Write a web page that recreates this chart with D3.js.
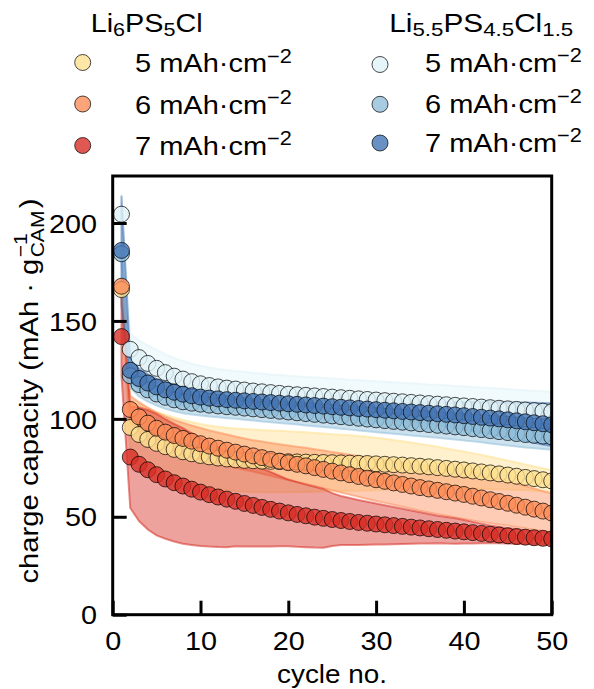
<!DOCTYPE html>
<html><head><meta charset="utf-8">
<script src="https://cdn.jsdelivr.net/npm/d3@7"></script>
<style>
body{margin:0;background:#fff}
svg{display:block}
text{font-family:"Liberation Sans",Arial,Helvetica,sans-serif;fill:#000}
</style>
</head><body>
<svg id="chart" width="594" height="689"></svg>
<script>
// ---------------- data ----------------
const cycles = d3.range(1, 51);
const xTicks = [0, 10, 20, 30, 40, 50];
const yTicks = [0, 50, 100, 150, 200];

const seriesNames = ["Li6PS5Cl 5", "Li6PS5Cl 6", "Li6PS5Cl 7", "Li5.5 5", "Li5.5 6", "Li5.5 7"];
const loadingLabels = ["5", "6", "7"];

// Li6PS5Cl, 5 mAh cm-2
const li6_5_mean = [166, 95.6, 92, 89.5, 87.5, 85.8, 84.4, 83.2, 82.2, 81.3,
  80.6, 80, 79.5, 79.1, 78.8, 78.6, 78.4, 78.3, 78.2, 78.1,
  78, 77.9, 77.8, 77.7, 77.6, 77.5, 77.4, 77.3, 77.2, 77,
  76.8, 76.6, 76.4, 76.1, 75.8, 75.5, 75.1, 74.7, 74.3, 73.9,
  73.4, 72.9, 72.4, 71.9, 71.3, 70.7, 70.1, 69.5, 68.9, 68.3];
const li6_5_sd = [5, 14, 15.5, 16, 16.2, 16.3, 16.3, 16.3, 16.2, 16.1,
  16, 16, 16, 16, 16, 16, 15.9, 15.8, 15.7, 15.6,
  15.4, 15.2, 15, 14.8, 14.6, 14.4, 14.2, 14, 13.7, 13.4,
  13, 12.6, 12.2, 11.8, 11.4, 11, 10.6, 10.2, 9.8, 9.4,
  9, 8.6, 8.2, 7.8, 7.4, 7, 6.6, 6.2, 5.9, 5.6];
// Li6PS5Cl, 6 mAh cm-2
const li6_6_mean = [167.7, 104.8, 101, 97.8, 95.2, 93.2, 91.5, 90, 88.6, 87.3,
  86.1, 85, 84, 83, 82, 81.1, 80.2, 79.3, 78.4, 77.6,
  76.8, 76, 75.1, 74.2, 73.3, 72.4, 71.5, 70.6, 69.7, 68.9,
  68.1, 67.3, 66.5, 65.7, 64.9, 64.2, 63.5, 62.8, 62.1, 61.4,
  60.5, 59.6, 58.7, 57.8, 56.9, 55.9, 54.9, 53.9, 52.9, 51.9];
const li6_6_sd = [4, 7, 7.5, 8, 8, 8, 8, 8, 8, 8,
  8, 8, 8, 8, 8, 8, 8.2, 8.4, 8.6, 8.8,
  9, 9.2, 9.4, 9.6, 9.8, 10, 10.2, 10.4, 10.6, 10.8,
  11, 11.2, 11.4, 11.6, 11.8, 12, 12.2, 12.3, 12.4, 12.5,
  12.4, 12.2, 12, 11.7, 11.4, 11.1, 10.8, 10.5, 10.2, 10];
// Li6PS5Cl, 7 mAh cm-2
const li6_7_mean = [142, 80.5, 76.8, 74, 71.5, 69.3, 67.4, 65.7, 64.1, 62.6,
  61.3, 60.1, 59, 57.9, 56.8, 55.8, 54.8, 53.8, 52.9, 52,
  51.2, 50.5, 49.8, 49.2, 48.6, 48.1, 47.6, 47.1, 46.7, 46.3,
  45.9, 45.5, 45.1, 44.7, 44.3, 43.9, 43.5, 43.1, 42.7, 42.3,
  41.9, 41.5, 41.1, 40.7, 40.3, 39.9, 39.6, 39.3, 39, 38.7];
const li6_7_sd = [20, 26, 29, 30.5, 31, 30.5, 30, 29.5, 28.5, 27.5,
  26.5, 25.5, 24.5, 23, 22, 21, 20, 19, 18, 17,
  16.5, 16, 15.5, 15, 13.5, 12.5, 12, 11.5, 11, 10.5,
  10, 9.5, 9, 8.5, 8, 7.5, 7, 6.8, 6.5, 6,
  5.5, 5, 4.5, 4.2, 4, 3.8, 3.5, 3.3, 3.1, 3];
// Li5.5PS4.5Cl1.5, 5 mAh cm-2
const li55_5_mean = [204.5, 135.5, 131.3, 128.3, 125.8, 123.6, 121.8, 120.3, 119, 117.9,
  117, 116.3, 115.7, 115.2, 114.7, 114.2, 113.8, 113.4, 113, 112.6,
  112.3, 112, 111.7, 111.4, 111.1, 110.8, 110.5, 110.2, 109.9, 109.6,
  109.3, 109, 108.7, 108.4, 108.1, 107.8, 107.5, 107.2, 106.9, 106.6,
  106.3, 106, 105.7, 105.4, 105.1, 104.8, 104.5, 104.2, 103.9, 103.6];
const li55_5_sd = [6, 8, 8.8, 9.2, 9.4, 9.3, 9.3, 9.2, 9.2, 9.2,
  9.2, 9.2, 9.2, 9.2, 9.3, 9.3, 9.3, 9.3, 9.4, 9.4,
  9.4, 9.4, 9.5, 9.5, 9.5, 9.5, 9.5, 9.6, 9.6, 9.6,
  9.7, 9.7, 9.7, 9.8, 9.8, 9.8, 9.9, 9.9, 9.9, 10,
  10, 10, 10, 10.1, 10.1, 10.1, 10.1, 10.2, 10.2, 10.2];
// Li5.5PS4.5Cl1.5, 6 mAh cm-2
const li55_6_mean = [184.3, 122, 117.5, 114.8, 112.7, 111, 109.7, 108.7, 108, 107.5,
  107, 106.6, 106.2, 105.9, 105.5, 105.1, 104.7, 104.3, 103.9, 103.5,
  103.1, 102.7, 102.3, 101.9, 101.5, 101.1, 100.7, 100.3, 99.9, 99.5,
  99.1, 98.7, 98.3, 97.9, 97.5, 97.1, 96.7, 96.3, 95.9, 95.5,
  95, 94.5, 94, 93.5, 93, 92.5, 92, 91.6, 91.2, 90.8];
const li55_6_sd = [5, 6.2, 6.1, 6, 5.9, 5.9, 5.8, 5.8, 5.8, 5.8,
  5.8, 5.8, 5.9, 5.9, 5.9, 5.9, 6, 6, 6, 6,
  6, 6.1, 6.1, 6.1, 6.1, 6.2, 6.2, 6.2, 6.2, 6.3,
  6.3, 6.3, 6.3, 6.4, 6.4, 6.4, 6.4, 6.5, 6.5, 6.5,
  6.5, 6.5, 6.6, 6.6, 6.6, 6.6, 6.6, 6.6, 6.6, 6.6];
// Li5.5PS4.5Cl1.5, 7 mAh cm-2
const li55_7_mean = [186, 124.8, 120.6, 118.3, 116.3, 114.8, 113.6, 112.6, 111.8, 111.1,
  110.6, 110.2, 109.8, 109.5, 109.2, 108.9, 108.6, 108.3, 108, 107.7,
  107.4, 107.1, 106.8, 106.5, 106.2, 105.9, 105.6, 105.3, 105, 104.7,
  104.4, 104.1, 103.8, 103.5, 103.2, 102.9, 102.6, 102.3, 102, 101.6,
  101.2, 100.8, 100.4, 100, 99.5, 99, 98.5, 98, 97.5, 97];
const li55_7_sd = [28, 6, 5, 4.5, 4, 4, 4, 4, 4, 4,
  4, 4, 4, 4, 4, 4, 4, 4, 4, 4,
  4, 4, 4, 4, 4, 4, 4, 4, 4, 4,
  4.2, 4.4, 4.6, 4.8, 5, 5.4, 5.8, 6.2, 6.6, 7,
  7.4, 7.8, 8.2, 8.6, 9, 9.4, 9.8, 10.2, 10.6, 11];

const colors = ["#fee090", "#fc8d59", "#d73027", "#e0f3f8", "#91bfdb", "#4575b4"];
const means = [li6_5_mean, li6_6_mean, li6_7_mean, li55_5_mean, li55_6_mean, li55_7_mean];
const sds = [li6_5_sd, li6_6_sd, li6_7_sd, li55_5_sd, li55_6_sd, li55_7_sd];

const series = seriesNames.map((name, i) => ({
  name, color: colors[i],
  values: cycles.map((c, j) => ({c, m: means[i][j], s: sds[i][j]}))
}));

// ---------------- layout ----------------
const X0 = 112.7, X1 = 551.7, Y0 = 614.7, Y1 = 176;
const svg = d3.select("#chart");
const x = d3.scaleLinear().domain([0, 50]).range([X0, X1]);
const y = d3.scaleLinear().domain([0, 224]).range([Y0, Y1]);

svg.append("defs").append("clipPath").attr("id", "plotclip")
  .append("rect").attr("x", X0).attr("y", Y1).attr("width", X1 - X0).attr("height", Y0 - Y1);

const plot = svg.append("g").attr("clip-path", "url(#plotclip)");

const area = d3.area()
  .x(d => x(d.c))
  .y0(d => y(d.m - d.s))
  .y1(d => y(d.m + d.s));

plot.selectAll("path.band").data(series).join("path")
  .attr("class", "band")
  .attr("d", d => area(d.values))
  .attr("fill", d => d.color)
  .attr("fill-opacity", 0.45)
  .attr("stroke", d => d.color)
  .attr("stroke-opacity", 0.55)
  .attr("stroke-width", 2);

const groups = plot.selectAll("g.pts").data(series).join("g").attr("class", "pts");
groups.selectAll("circle").data(d => d.values.map(v => ({...v, color: d.color}))).join("circle")
  .attr("cx", d => x(d.c))
  .attr("cy", d => y(d.m))
  .attr("r", 8)
  .attr("fill", d => d.color)
  .attr("fill-opacity", 0.8)
  .attr("stroke", "#000")
  .attr("stroke-opacity", 0.7)
  .attr("stroke-width", 1);

// axes
const TICK_K = 1.13;
const yAxis = svg.append("g").attr("transform", `translate(${X0},0)`)
  .call(d3.axisLeft(y).tickValues(yTicks).tickSize(-14).tickPadding(0));
yAxis.select(".domain").remove();
yAxis.selectAll(".tick line").attr("stroke", "#000").attr("stroke-width", 3);
yAxis.selectAll(".tick text")
  .attr("x", 0).attr("dy", null).attr("y", 0)
  .attr("font-size", 25.5).attr("font-family", null)
  .attr("transform", `translate(-15.7,9.2) scale(${TICK_K},1)`);

const xAxis = svg.append("g").attr("transform", `translate(0,${Y0})`)
  .call(d3.axisBottom(x).tickValues(xTicks).tickSize(-14).tickPadding(0));
xAxis.select(".domain").remove();
xAxis.selectAll(".tick line").attr("stroke", "#000").attr("stroke-width", 3);
xAxis.selectAll(".tick text")
  .attr("y", 0).attr("dy", null)
  .attr("font-size", 25.5).attr("font-family", null)
  .attr("transform", `translate(0,35.5) scale(${TICK_K},1)`);

// frame
svg.append("rect").attr("x", X0).attr("y", Y1).attr("width", X1 - X0).attr("height", Y0 - Y1)
  .attr("fill", "none").attr("stroke", "#000").attr("stroke-width", 3);

// ---------------- text helpers ----------------
function rich(parent, segs, size) {
  const t = parent.append("text").attr("font-size", size);
  let off = 0;
  segs.forEach(sg => {
    const target = sg.sub ? size * 0.15 : sg.sup ? -size * 0.37 : 0;
    t.append("tspan")
      .attr("font-size", (sg.sub || sg.sup) ? size * 0.75 : size)
      .attr("dy", target - off)
      .text(sg.t);
    off = target;
  });
  return t;
}
function fitted(x0, base, segs, size, width, anchor) {
  const g = svg.append("g");
  const t = rich(g, segs, size).attr("text-anchor", anchor || "start");
  const w = t.node().getBBox().width;
  g.attr("transform", `translate(${x0},${base}) scale(${width / w},1)`);
  return g;
}

// x label
fitted(332, 683, [{t: "cycle no."}], 25.5, 110, "middle");

// y label
(function () {
  const outer = svg.append("g").attr("transform", "translate(38,391) rotate(-90)");
  const sc = outer.append("g");
  const inner = sc.append("g");
  const s = 25.5;
  const t1 = inner.append("text").attr("font-size", s).text("charge capacity (mAh \u00b7 g");
  const w1 = t1.node().getComputedTextLength();
  const sup = inner.append("text").attr("font-size", s * 0.72).attr("x", w1 + 1).attr("y", -11).text("\u22121");
  const sub = inner.append("text").attr("font-size", s * 0.72).attr("x", w1 + 1).attr("y", 6).text("CAM");
  const w2 = Math.max(sup.node().getComputedTextLength(), sub.node().getComputedTextLength());
  inner.append("text").attr("font-size", s).attr("x", w1 + w2 + 3).text(")");
  const W = inner.node().getBBox().width;
  inner.attr("transform", `translate(${-W / 2},0)`);
  sc.attr("transform", `scale(${385 / W},1)`);
})();

// legend
const titleSegs = [
  [{t: "Li"}, {t: "6", sub: true}, {t: "PS"}, {t: "5", sub: true}, {t: "Cl"}],
  [{t: "Li"}, {t: "5.5", sub: true}, {t: "PS"}, {t: "4.5", sub: true}, {t: "Cl"}, {t: "1.5", sub: true}]
];
fitted(90.7, 32, titleSegs[0], 25, 112);
fitted(389.3, 32, titleSegs[1], 25, 184);

const legendCols = [
  {mx: 82.7, tx: 135, rows: [62.5, 104, 145.5], base: [72.3, 113.5, 154.5], idx: [0, 1, 2]},
  {mx: 380, tx: 425, rows: [64.5, 104.3, 143], base: [71.8, 112.8, 152], idx: [3, 4, 5]}
];
legendCols.forEach(col => {
  col.idx.forEach((si, r) => {
    svg.append("circle").attr("cx", col.mx).attr("cy", col.rows[r]).attr("r", 8)
      .attr("fill", colors[si]).attr("fill-opacity", 0.8)
      .attr("stroke", "#000").attr("stroke-opacity", 0.7).attr("stroke-width", 1);
    fitted(col.tx, col.base[r],
      [{t: loadingLabels[r] + " mAh\u00b7cm"}, {t: "\u22122", sup: true}], 26, 157);
  });
});
</script>
</body></html>
